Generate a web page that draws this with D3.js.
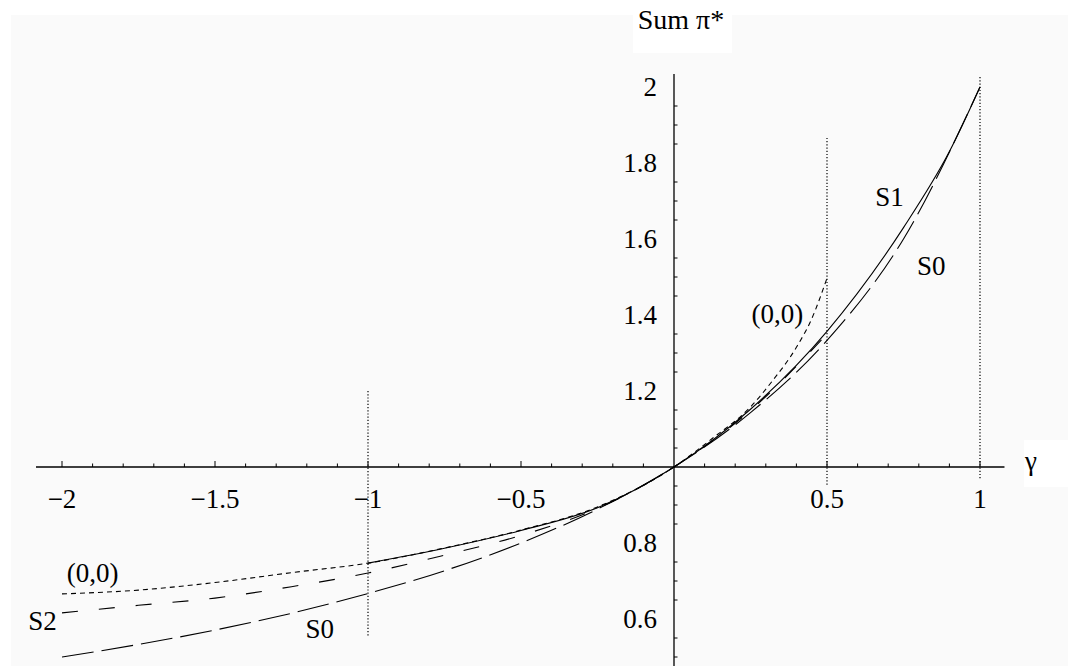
<!DOCTYPE html>
<html>
<head>
<meta charset="utf-8">
<script src="https://cdn.jsdelivr.net/npm/d3@7"></script>
<style>
  html, body { margin: 0; padding: 0; background: #ffffff; }
  svg { display: block; }
  text { font-family: "Liberation Serif", "DejaVu Serif", serif; fill: #000; }
</style>
</head>
<body>
<svg id="chart" width="1068" height="666"></svg>
<script>
// ---------- data ----------
const gammaS0 = [-2, -1.75, -1.5, -1.25, -1, -0.75, -0.5, -0.25, 0, 0.25, 0.5, 0.75, 1];
const valS0   = [0.5, 0.533, 0.571, 0.615, 0.667, 0.727, 0.8, 0.889, 1, 1.143, 1.333, 1.6, 2.0];

const gammaS1 = [-1, -0.75, -0.5, -0.25, 0, 0.25, 0.5, 0.75, 0.9, 1];
const valS1   = [0.747, 0.786, 0.833, 0.893, 1, 1.152, 1.357, 1.63, 1.83, 2.0];

const gammaS2 = [-2, -1.75, -1.5, -1.25, -1, -0.75, -0.5, -0.25, 0, 0.25, 0.5];
const valS2   = [0.616, 0.636, 0.655, 0.685, 0.721, 0.768, 0.82, 0.891, 1, 1.149, 1.35];

const gamma00 = [-2, -1.75, -1.5, -1.25, -1, -0.75, -0.5, -0.25, 0, 0.125, 0.25, 0.32, 0.4, 0.45, 0.5];
const val00   = [0.666, 0.676, 0.696, 0.722, 0.747, 0.787, 0.834, 0.895, 1, 1.075, 1.158, 1.225, 1.315, 1.39, 1.497];

const refLineX      = [-1, 0.5, 1];
const refLineTop    = [1.2, 1.866, 2.026];
const refLineBottom = [0.553, 0.953, 0.966];

const xTickValues = [-2, -1.5, -1, -0.5, 0.5, 1];
const xTickLabels = ["\u22122", "\u22121.5", "\u22121", "\u22120.5", "0.5", "1"];
const yTickValues = [2, 1.8, 1.6, 1.4, 1.2, 0.8, 0.6];
const yTickLabels = ["2", "1.8", "1.6", "1.4", "1.2", "0.8", "0.6"];

const curveLabels = [
  {text: "S1",    g: 0.704, v: 1.711},
  {text: "S0",    g: 0.841, v: 1.529},
  {text: "(0,0)", g: 0.338, v: 1.403},
  {text: "(0,0)", g: -1.900, v: 0.721},
  {text: "S2",    g: -2.064, v: 0.597},
  {text: "S0",    g: -1.158, v: 0.576}
];

// ---------- scales ----------
const svg = d3.select("#chart");
const x = d3.scaleLinear().domain([-2, 1]).range([62, 980]);
const y = d3.scaleLinear().domain([0.6, 2.0]).range([619, 87]);

// background
svg.append("rect").attr("x", 0).attr("y", 0).attr("width", 1068).attr("height", 666).attr("fill", "#ffffff");
svg.append("rect").attr("x", 11).attr("y", 15).attr("width", 1057).attr("height", 651).attr("fill", "#fafafa");

// reference dotted lines
refLineX.forEach((g, i) => {
  svg.append("line")
    .attr("x1", x(g)).attr("x2", x(g))
    .attr("y1", y(refLineTop[i])).attr("y2", y(refLineBottom[i]))
    .attr("stroke", "#000").attr("stroke-width", 1.2)
    .attr("stroke-dasharray", "1.2,2");
});

// ---------- axes ----------
const x0 = x(0), y1 = y(1);
// x axis
const xAxisG = svg.append("g").attr("transform", `translate(0,${y1})`);
xAxisG.append("line").attr("x1", x(-2.085)).attr("x2", x(1.08)).attr("y1", 0).attr("y2", 0)
  .attr("stroke", "#000").attr("stroke-width", 1.3);
const minorX = d3.range(-20, 11).map(d => d / 10).filter(d => Math.abs(d) > 1e-9);
xAxisG.selectAll("line.tk").data(minorX).enter().append("line")
  .attr("x1", d => x(d)).attr("x2", d => x(d))
  .attr("y1", 0).attr("y2", d => (Math.abs(d * 2 - Math.round(d * 2)) < 1e-9) ? -6 : -3.5)
  .attr("stroke", "#000").attr("stroke-width", 1);
xAxisG.selectAll("text.xl").data(xTickValues).enter().append("text")
  .attr("x", d => x(d)).attr("y", 41)
  .attr("text-anchor", "middle")
  .attr("font-size", 27)
  .text((d, i) => xTickLabels[i]);

// y axis
const yAxisG = svg.append("g").attr("transform", `translate(${x0},0)`);
yAxisG.append("line").attr("x1", 0).attr("x2", 0).attr("y1", y(2.034)).attr("y2", 666)
  .attr("stroke", "#000").attr("stroke-width", 1.3);
const minorY = d3.range(10, 41).map(d => d / 20)
  .filter(d => Math.abs(d * 5 - Math.round(d * 5)) > 1e-9);
yAxisG.selectAll("line.tk").data(minorY).enter().append("line")
  .attr("x1", 0).attr("x2", 3.5)
  .attr("y1", d => y(d)).attr("y2", d => y(d))
  .attr("stroke", "#000").attr("stroke-width", 1);
yAxisG.selectAll("text.yl").data(yTickValues).enter().append("text")
  .attr("x", -17).attr("y", d => y(d))
  .attr("dy", "0.35em")
  .attr("text-anchor", "end")
  .attr("font-size", 27)
  .text((d, i) => yTickLabels[i]);

// axis titles with white boxes
svg.append("rect").attr("x", 633).attr("y", 0).attr("width", 99).attr("height", 53).attr("fill", "#ffffff");
svg.append("text").attr("x", 681).attr("y", 29).attr("text-anchor", "middle").attr("font-size", 28).text("Sum \u03c0*");
svg.append("rect").attr("x", 1024).attr("y", 440).attr("width", 44).attr("height", 47).attr("fill", "#ffffff");
svg.append("text").attr("x", 1031).attr("y", 470).attr("text-anchor", "middle").attr("font-size", 27).text("\u03b3");

// ---------- curves ----------
const line = d3.line().x(d => x(d[0])).y(d => y(d[1])).curve(d3.curveMonotoneX);
function drawSeries(gs, vs, dash) {
  svg.append("path")
    .attr("d", line(gs.map((g, i) => [g, vs[i]])))
    .attr("fill", "none").attr("stroke", "#000").attr("stroke-width", 1.1)
    .attr("stroke-dasharray", dash);
}
drawSeries(gammaS0, valS0, "32,8");
drawSeries(gammaS2, valS2, "16,21");
drawSeries(gamma00, val00, "5,4");
drawSeries(gammaS1, valS1, null);

// curve labels
svg.selectAll("text.cl").data(curveLabels).enter().append("text")
  .attr("x", d => x(d.g)).attr("y", d => y(d.v))
  .attr("dy", "0.35em")
  .attr("text-anchor", "middle")
  .attr("font-size", 27)
  .text(d => d.text);
</script>
</body>
</html>
